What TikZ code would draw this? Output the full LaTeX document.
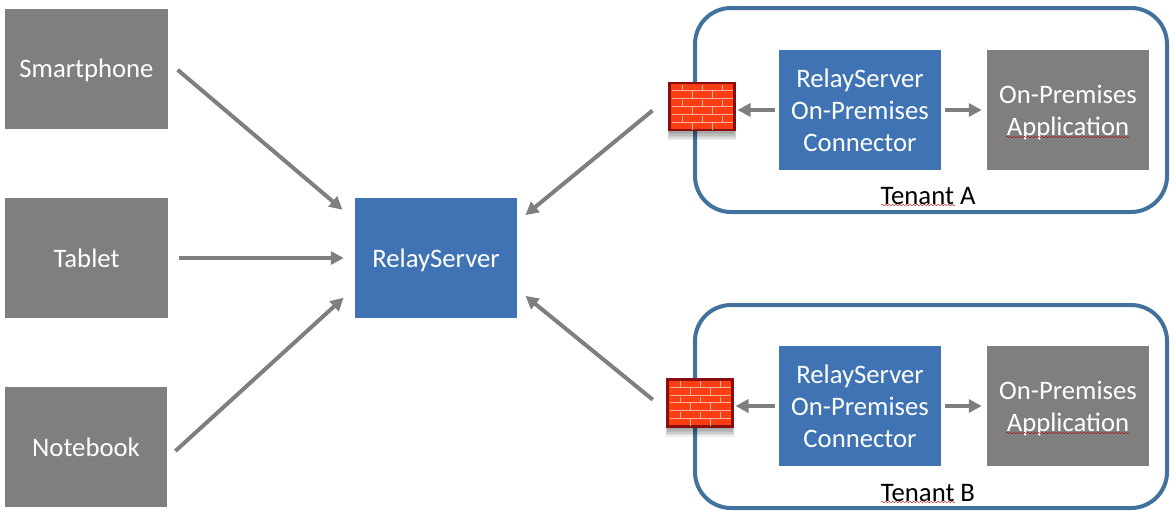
\documentclass[tikz,border=0pt]{standalone}
\usepackage{fontspec}
\setmainfont{Carlito}
\usetikzlibrary{arrows.meta,calc,decorations.pathmorphing}
\definecolor{boxgray}{HTML}{7F7F7F}
\definecolor{boxblue}{HTML}{3F73B3}
\definecolor{tenantblue}{HTML}{41719C}
\definecolor{brickred}{HTML}{FF3D12}
\definecolor{brickdark}{HTML}{8A0E10}
\definecolor{mortar}{HTML}{FFB39E}
\tikzset{
	box/.style={minimum width=3.25cm, minimum height=2.4cm, align=center, text=white, inner sep=0pt, outer sep=0pt, text depth=0pt, font=\fontsize{15.2}{18.1}\selectfont},
	graybox/.style={box, fill=boxgray},
	bluebox/.style={box, fill=boxblue},
	tenant/.style={draw=tenantblue, line width=0.08cm, rounded corners=0.72cm, minimum width=9.44cm, outer sep=0pt},
	tenantlabel/.style={inner sep=0pt, font=\fontsize{15.2}{18.1}\selectfont},
	wall/.style={draw=brickdark, line width=0.05cm, fill=brickred, minimum width=1.3cm, minimum height=0.94cm, outer sep=0pt},
	link/.style={draw=boxgray, line width=0.08cm, -{Triangle[length=0.26cm,width=0.26cm]}},
	squiggle/.style={draw=red!70!black, line width=0.2pt, decorate, decoration={snake,amplitude=0.15mm,segment length=0.7mm}}
}
% brick joints and soft shadow of a wall node
\def\wallshadow(#1){\foreach \g in {0.18,0.15,0.12,0.09,0.06,0.03,0}{\fill[black, opacity=0.07] ($(#1.south west)+(-\g*0.2,0.1)$) rectangle ($(#1.south east)+(\g*0.2,-0.02-\g)$);}}
\def\bricks(#1){
	\foreach \r in {1,...,5}{\draw[mortar, line width=0.5pt] ($(#1.north west)+(0.04,-0.156*\r)$) -- ($(#1.north east)+(-0.04,-0.156*\r)$);}
	\foreach \r in {0,2,4}{\foreach \c in {0.25,0.65,1.05}{\draw[mortar, line width=0.5pt] ($(#1.north west)+(\c,-0.156*\r-0.03)$) -- +(0,-0.126);}}
	\foreach \r in {1,3,5}{\foreach \c in {0.45,0.85}{\draw[mortar, line width=0.5pt] ($(#1.north west)+(\c,-0.156*\r)$) -- +(0,-0.156);}}
}

\begin{document}
\begin{tikzpicture}
	%%%%% START %%%%%
	\useasboundingbox (0, 0) rectangle (23.52, 10.32);

	\node[graybox] (smartphone) at (1.73, 8.95) {Smartphone};
	\node[graybox] (tablet) at (1.73, 5.16) {Tablet};
	\node[graybox] (notebook) at (1.72, 1.38) {Notebook};
	\node[bluebox] (relay) at (8.72, 5.16) {RelayServer};

	\node[tenant, minimum height=4.08cm] (tenantA) at (18.62, 8.12) {};
	\node[tenant, minimum height=4.06cm] (tenantB) at (18.62, 2.19) {};

	\node[bluebox] (connectorA) at (17.2, 8.12) {RelayServer\\On-Premises\\Connector};
	\node[graybox] (applicationA) at (21.36, 8.12) {On-Premises\\Application};
	\node[bluebox] (connectorB) at (17.2, 2.2) {RelayServer\\On-Premises\\Connector};
	\node[graybox] (applicationB) at (21.36, 2.2) {On-Premises\\Application};

	\node[tenantlabel] (labelA) at (18.56, 6.4) {Tenant A};
	\node[tenantlabel] (labelB) at (18.56, 0.46) {Tenant B};

	\path (14.04, 8.19) coordinate (wallAc) (14, 2.26) coordinate (wallBc);
	\node[minimum width=1.3cm, minimum height=0.94cm, outer sep=0pt] (shadowA) at (wallAc) {};
	\node[minimum width=1.3cm, minimum height=0.94cm, outer sep=0pt] (shadowB) at (wallBc) {};
	\wallshadow(shadowA)
	\wallshadow(shadowB)
	\node[wall] (wallA) at (wallAc) {};
	\node[wall] (wallB) at (wallBc) {};
	\bricks(wallA)
	\bricks(wallB)

	\draw[link, shorten <=0.26cm, shorten >=0.32cm] (smartphone.5) -- (relay.155.5);
	\draw[link, shorten <=0.22cm, shorten >=0.22cm] (tablet.east) -- (relay.west);
	\draw[link, shorten <=0.22cm, shorten >=0.3cm] (notebook.-8.3) -- (relay.200.3);
	\draw[link, shorten <=0.44cm, shorten >=0.21cm] (wallA.163) -- (relay.24.2);
	\draw[link, shorten <=0.38cm, shorten >=0.21cm] (wallB.195) -- (relay.-21.9);

	\draw[link, shorten <=0.08cm, shorten >=0.06cm] (connectorA.west) -- (connectorA.west -| wallA.east);
	\draw[link, shorten <=0.08cm, shorten >=0.06cm] (connectorB.west) -- (connectorB.west -| wallB.east);
	\draw[link, shorten <=0.08cm, shorten >=0.1cm] (connectorA.east) -- (applicationA.west);
	\draw[link, shorten <=0.08cm, shorten >=0.1cm] (connectorB.east) -- (applicationB.west);

	\draw[squiggle] ($(applicationA.center)+(-1.24,-0.54)$) -- +(2.48,0);
	\draw[squiggle] ($(applicationB.center)+(-1.24,-0.54)$) -- +(2.48,0);
	\draw[squiggle] ($(labelA.center)+(-0.94,-0.18)$) -- +(1.48,0);
	\draw[squiggle] ($(labelB.center)+(-0.94,-0.18)$) -- +(1.48,0);
	%%%%% END %%%%%
\end{tikzpicture}
\end{document}
